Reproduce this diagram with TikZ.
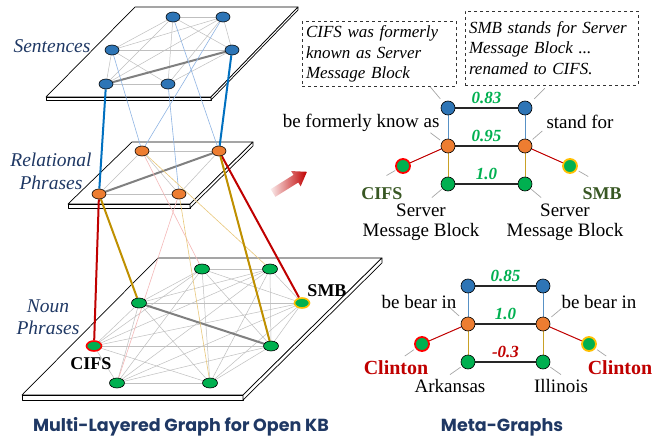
\documentclass[tikz,border=0pt]{standalone}
\usepackage{fontspec}
\setmainfont{Liberation Serif}
\newfontfamily\titlefont{Poppins}
\usetikzlibrary{shapes.geometric}

\definecolor{sblue}{HTML}{2E75B6}
\definecolor{rorange}{HTML}{ED7D31}
\definecolor{ngreen}{HTML}{00B050}
\definecolor{navy}{HTML}{1F3864}
\definecolor{dkred}{HTML}{C00000}
\definecolor{gold}{HTML}{BF9000}
\definecolor{linkblue}{HTML}{0070C0}
\definecolor{paleblue}{HTML}{8FB4E3}
\definecolor{palepink}{HTML}{F4B8B8}
\definecolor{palegold}{HTML}{E8C77A}
\definecolor{dkgreen}{HTML}{385723}
\definecolor{ringyellow}{HTML}{FFC000}

\pgfdeclarelayer{plates}
\pgfdeclarelayer{links}
\pgfsetlayers{plates,links,main}

\tikzset{
  sent/.style={ellipse, draw=black, line width=0.6pt, fill=sblue,
    minimum width=14pt, minimum height=10pt, inner sep=0pt},
  rel/.style={sent, fill=rorange},
  noun/.style={sent, fill=ngreen, minimum width=15pt},
  plate/.style={draw=black, fill=white, line width=0.7pt, line join=round},
  grayedge/.style={draw=black!25, line width=0.5pt},
  grayheavy/.style={draw=black!50, line width=2pt},
  layername/.style={font=\fontsize{19.5}{23}\selectfont\itshape, text=navy, align=center},
  mnode/.style={circle, draw=black, line width=0.6pt, minimum size=14pt, inner sep=0pt},
  ring/.style={mnode, fill=ngreen, line width=1.8pt},
  hline/.style={draw=black!85, line width=1.2pt},
  num/.style={font=\fontsize{17}{17}\selectfont\bfseries\itshape, text=ngreen, inner sep=1pt},
  mlbl/.style={font=\fontsize{19}{20}\selectfont},
  leader/.style={draw=black!35, line width=0.7pt},
  dashbox/.style={draw=black!80, dashed, line width=1pt, align=left, inner sep=4pt,
    font=\fontsize{17}{20.5}\selectfont\itshape},
  bigtitle/.style={font=\fontsize{17.5}{17.5}\selectfont\titlefont\bfseries, text=navy}
}

\begin{document}
\begin{tikzpicture}[x=1pt,y=-1pt]
\useasboundingbox (0,0) rectangle (662,439);

%% plates
\begin{pgfonlayer}{plates}
\filldraw[plate] (135,7) -- (298,7) -- (211,97) -- (46,97) -- cycle;          %% sentences
\filldraw[plate] (46,97) -- (211,97) -- (211,100) -- (46,100) -- cycle;
\filldraw[plate] (211,97) -- (298,7) -- (298,10) -- (211,100) -- cycle;
\filldraw[plate] (132,142) -- (253,142) -- (190,204) -- (68,204) -- cycle;    %% relational
\filldraw[plate] (68,204) -- (190,204) -- (190,208) -- (68,208) -- cycle;
\filldraw[plate] (190,204) -- (253,142) -- (253,146) -- (190,208) -- cycle;
\filldraw[plate] (158,258) -- (382,258) -- (243,395) -- (22,395) -- cycle;    %% noun
\filldraw[plate] (22,395) -- (243,395) -- (243,400) -- (22,400) -- cycle;
\filldraw[plate] (243,395) -- (382,258) -- (382,263) -- (243,400) -- cycle;
\end{pgfonlayer}

%% layer names
\node[layername] (lsent) at (52,46) {Sentences};
\node[layername] (lrel) at (51,171) {Relational\\Phrases};
\node[layername, font=\fontsize{19.5}{22}\selectfont\itshape] (lnoun) at (48,317) {Noun\\Phrases};

%% sentences
\node[sent] (s1) at (173,17) {};
\node[sent] (s2) at (223,17) {};
\node[sent] (s3) at (112,50) {};
\node[sent] (s4) at (232,50) {};
\node[sent] (s5) at (106,84) {};
\node[sent] (s6) at (168,84) {};

%% relational phrases
\node[rel] (r1) at (142,151) {};
\node[rel] (r2) at (219,151) {};
\node[rel] (r3) at (99,194) {};
\node[rel] (r4) at (179,194) {};

%% noun phrases
\node[noun] (n1) at (202,269) {};
\node[noun] (n2) at (270,269) {};
\node[noun] (n3) at (139,303) {};
\node[noun, draw=ringyellow, line width=1.6pt] (n4) at (302,303) {};
\node[noun, draw=red, line width=1.6pt] (n5) at (94,346) {};
\node[noun] (n6) at (271,346) {};
\node[noun] (n7) at (117,383) {};
\node[noun] (n8) at (210,383) {};

\node[font=\fontsize{18}{18}\selectfont\bfseries] (cifs) at (91,364) {CIFS};
\node[font=\fontsize{18}{18}\selectfont\bfseries] (smb) at (327,291) {SMB};

\begin{pgfonlayer}{links}
%% edges inside the layers
\foreach \i in {1,...,6}{\foreach \j in {1,...,6}{\ifnum\i<\j \draw[grayedge] (s\i) -- (s\j);\fi}}
\foreach \i in {1,...,4}{\foreach \j in {1,...,4}{\ifnum\i<\j \draw[grayedge] (r\i) -- (r\j);\fi}}
\foreach \i in {1,...,8}{\foreach \j in {1,...,8}{\ifnum\i<\j \draw[grayedge] (n\i) -- (n\j);\fi}}
\draw[grayheavy] (s5) -- (s4);
\draw[grayheavy] (r3) -- (r2);
\draw[grayheavy] (n3) -- (n6);

%% sentences -- relational
\draw[paleblue, line width=0.6pt] (s3) -- (r1);
\draw[paleblue, line width=0.6pt] (s1) -- (r2);
\draw[paleblue, line width=0.6pt] (s2) -- (r1);
\draw[paleblue, line width=0.6pt] (s6) -- (r4);
\draw[linkblue, line width=2pt] (s5) -- (r3);
\draw[linkblue, line width=2pt] (s4) -- (r2);

%% relational -- noun
\draw[palepink, line width=0.6pt] (r1) -- (n1);
\draw[palepink, line width=0.6pt] (r4) -- (n7);
\draw[palegold, line width=0.6pt] (r1) -- (n2);
\draw[palegold, line width=0.6pt] (r4) -- (n8);
\draw[dkred, line width=2pt] (r3) -- (n5);
\draw[dkred, line width=2pt] (r2) -- (n4);
\draw[gold, line width=2pt] (r3) -- (n3);
\draw[gold, line width=2pt] (r2) -- (n6);
\end{pgfonlayer}

%% arrow
\begin{scope}[shift={(273,193)}, rotate=32]
\shade[left color=dkred!8, right color=dkred]
  (0,-4.5) -- (27,-4.5) -- (27,-9) -- (40,0) -- (27,9) -- (27,4.5) -- (0,4.5) -- cycle;
\end{scope}

%% meta-graph CIFS / SMB
\node[dashbox, text width=146pt, minimum height=62pt] (box1) at (379,54)
  {CIFS was formerly\\known as Server\\Message Block};
\node[dashbox, text width=165pt, minimum height=74pt] (box2) at (551.5,48)
  {SMB stands for Server\\Message Block ...\\renamed to CIFS.};

\node[mnode, fill=sblue] (mb1) at (448,108) {};
\node[mnode, fill=sblue] (mb2) at (525,108) {};
\node[mnode, fill=rorange] (mo1) at (448,146) {};
\node[mnode, fill=rorange] (mo2) at (525,146) {};
\node[mnode, fill=ngreen] (mg1) at (448,184) {};
\node[mnode, fill=ngreen] (mg2) at (525,184) {};
\node[ring, draw=red] (mcifs) at (403,166) {};
\node[ring, draw=ringyellow] (msmb) at (570,166) {};

\begin{pgfonlayer}{links}
\draw[hline] (mb1) -- (mb2) node[num, midway, above=3pt] {0.83};
\draw[hline] (mo1) -- (mo2) node[num, midway, above=3pt] {0.95};
\draw[hline] (mg1) -- (mg2) node[num, midway, above=3pt] {1.0};
\draw[sblue!80, line width=1pt] (mb1) -- (mo1);
\draw[sblue!80, line width=1pt] (mb2) -- (mo2);
\draw[gold!85, line width=1pt] (mo1) -- (mg1);
\draw[gold!85, line width=1pt] (mo2) -- (mg2);
\draw[dkred, line width=1pt] (mo1) -- (mcifs);
\draw[dkred, line width=1pt] (mo2) -- (msmb);
\end{pgfonlayer}

\node[mlbl, anchor=base east] (fka) at (443,127) {be formerly know as};
\node[mlbl, anchor=base west] (sfor) at (543,128) {stand for};
\node[font=\fontsize{18}{18}\selectfont\bfseries, text=dkgreen, anchor=base] (mcifsl) at (382,199) {CIFS};
\node[font=\fontsize{18}{18}\selectfont\bfseries, text=dkgreen, anchor=base] (msmbl) at (602,199) {SMB};
\node[mlbl, align=center] (smb1) at (421,222) {Server\\Message Block};
\node[mlbl, align=center] (smb2) at (565,222) {Server\\Message Block};

%% leaders
\draw[leader] (mb1) ++(130:12pt) -- ++(130:16pt);
\draw[leader] (mb2) ++(45:13pt) -- ++(45:15pt);
\draw[leader] (mo1) ++(143:10pt) -- ++(143:12pt);
\draw[leader] (mo2) ++(41:10pt) -- ++(41:13pt);
\draw[leader] (mcifs) ++(210:9pt) -- ++(210:10pt);
\draw[leader] (msmb) ++(330:10pt) -- ++(330:11pt);
\draw[leader] (mg1) ++(220:8pt) -- ++(220:13pt);
\draw[leader] (mg2) ++(320:8pt) -- ++(320:13pt);

%% meta-graph Clinton
\node[mnode, fill=sblue] (cb1) at (468,286) {};
\node[mnode, fill=sblue] (cb2) at (543,286) {};
\node[mnode, fill=rorange] (co1) at (468,324) {};
\node[mnode, fill=rorange] (co2) at (543,324) {};
\node[mnode, fill=ngreen] (cg1) at (468,362) {};
\node[mnode, fill=ngreen] (cg2) at (543,362) {};
\node[ring, draw=red] (cl1) at (422,344) {};
\node[ring, draw=ringyellow] (cl2) at (589,344) {};

\begin{pgfonlayer}{links}
\draw[hline] (cb1) -- (cb2) node[num, midway, above=3pt] {0.85};
\draw[hline] (co1) -- (co2) node[num, midway, above=3pt] {1.0};
\draw[hline] (cg1) -- (cg2) node[num, midway, above=3pt, text=dkred] {-0.3};
\draw[sblue!80, line width=1pt] (cb1) -- (co1);
\draw[sblue!80, line width=1pt] (cb2) -- (co2);
\draw[gold!85, line width=1pt] (co1) -- (cg1);
\draw[gold!85, line width=1pt] (co2) -- (cg2);
\draw[dkred, line width=1pt] (co1) -- (cl1);
\draw[dkred, line width=1pt] (co2) -- (cl2);
\end{pgfonlayer}

\node[mlbl, anchor=base east] (bb1) at (460,308) {be bear in};
\node[mlbl, anchor=base west] (bb2) at (558,308) {be bear in};
\node[font=\fontsize{20}{20}\selectfont\bfseries, text=dkred, anchor=base] (cll1) at (396,374) {Clinton};
\node[font=\fontsize{20}{20}\selectfont\bfseries, text=dkred, anchor=base] (cll2) at (620,374) {Clinton};
\node[mlbl, anchor=base] (ark) at (450,392) {Arkansas};
\node[mlbl, anchor=base] (ill) at (561,392) {Illinois};

\draw[leader] (co1) ++(138:12pt) -- ++(138:12pt);
\draw[leader] (co2) ++(40:11pt) -- ++(40:13pt);
\draw[leader] (cl1) ++(215:10pt) -- ++(215:11pt);
\draw[leader] (cl2) ++(325:10pt) -- ++(325:11pt);
\draw[leader] (cg1) ++(215:9pt) -- ++(215:13pt);
\draw[leader] (cg2) ++(325:9pt) -- ++(325:13pt);

%% titles
\node[bigtitle, anchor=base] (t1) at (181,431) {Multi-Layered Graph for Open KB};
\node[bigtitle, anchor=base] (t2) at (502,431) {Meta-Graphs};
\end{tikzpicture}
\end{document}
